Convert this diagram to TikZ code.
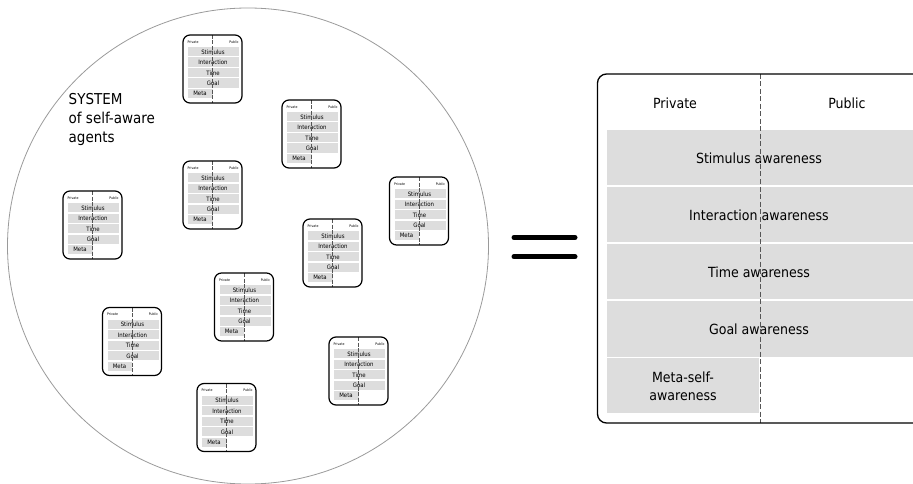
\documentclass[tikz,border=0pt]{standalone}
\usepackage{fontspec}
\setmainfont{DejaVu Sans Condensed}
\definecolor{rowgray}{HTML}{DDDDDD}
\definecolor{dashgray}{HTML}{555555}
\definecolor{ellgray}{HTML}{9A9A9A}
\tikzset{
  agentbox/.style={draw=black, line width=1.2pt, rounded corners=7pt},
  agenttxt/.style={font=\fontsize{6}{6}\selectfont, inner sep=0pt},
  agenthead/.style={font=\fontsize{3.5}{3.5}\selectfont, inner sep=0pt},
  divider/.style={draw=dashgray, line width=0.9pt, dash pattern=on 4pt off 1.5pt},
  bigtxt/.style={font=\fontsize{14}{18}\selectfont, inner sep=0pt, align=center},
  agent/.pic={
    \fill[rowgray] (5,12) rectangle (56,21.3);
    \fill[rowgray] (5,22.5) rectangle (56,31.8);
    \fill[rowgray] (5,33) rectangle (56,42.3);
    \fill[rowgray] (5,43.5) rectangle (56,52.8);
    \fill[rowgray] (5,54) rectangle (29.5,63.3);
    \node[agenthead] (-priv) at (10,7) {Private};
    \node[agenthead] (-pub) at (51,7) {Public};
    \node[agenttxt] (-stim) at (30,16.8) {Stimulus};
    \node[agenttxt] (-inter) at (30,27.3) {Interaction};
    \node[agenttxt] (-time) at (30,37.8) {Time};
    \node[agenttxt] (-goal) at (30,48.3) {Goal};
    \node[agenttxt] (-meta) at (17,58.8) {Meta};
    \draw[divider] (29.5,0) -- (29.5,68);
    \draw[agentbox] (0,0) rectangle (59,68);
  }
}
\begin{document}
\begin{tikzpicture}[x=1pt,y=-1pt]
\useasboundingbox (0,0) rectangle (913,484);
\clip (0,0) rectangle (913,484);
% system ellipse
\draw[ellgray, line width=0.8pt] (248,246) ellipse [x radius=240.5, y radius=238];
\node[font=\fontsize{15}{19}\selectfont, align=left, anchor=north west, inner sep=0pt] (sys) at (68.5,93) {SYSTEM\\of self-aware\\agents};
% agents
\pic (a1) at (183,35) {agent};
\pic (a2) at (282,100) {agent};
\pic (a3) at (183,161) {agent};
\pic (a4) at (63,191) {agent};
\pic (a5) at (389.5,177) {agent};
\pic (a6) at (303,219) {agent};
\pic (a7) at (214.5,273) {agent};
\pic (a8) at (102.5,307.5) {agent};
\pic (a9) at (329,337) {agent};
\pic (a10) at (197,383.5) {agent};
% equals sign
\draw[line width=5pt, line cap=round] (514,237.5) -- (575,237.5);
\draw[line width=5pt, line cap=round] (514,256.8) -- (575,256.8);
% big box
\fill[rowgray] (607,130) rectangle (913,185);
\fill[rowgray] (607,187) rectangle (913,242);
\fill[rowgray] (607,244) rectangle (913,299);
\fill[rowgray] (607,301) rectangle (913,356.5);
\fill[rowgray] (607,358) rectangle (759,412.5);
\node[bigtxt] (priv) at (675,103) {Private};
\node[bigtxt] (pub) at (847,103) {Public};
\node[bigtxt] (stim) at (759,158) {Stimulus awareness};
\node[bigtxt] (inter) at (759,215) {Interaction awareness};
\node[bigtxt] (time) at (759,272) {Time awareness};
\node[bigtxt] (goal) at (759,329) {Goal awareness};
\node[bigtxt] (meta) at (683,386) {Meta-self-\\awareness};
\draw[divider, line width=1pt, dash pattern=on 5pt off 2.5pt] (760,74) -- (760,423);
\draw[line width=1.3pt, rounded corners=9pt] (597.5,74) rectangle (922,423);
\end{tikzpicture}
\end{document}
